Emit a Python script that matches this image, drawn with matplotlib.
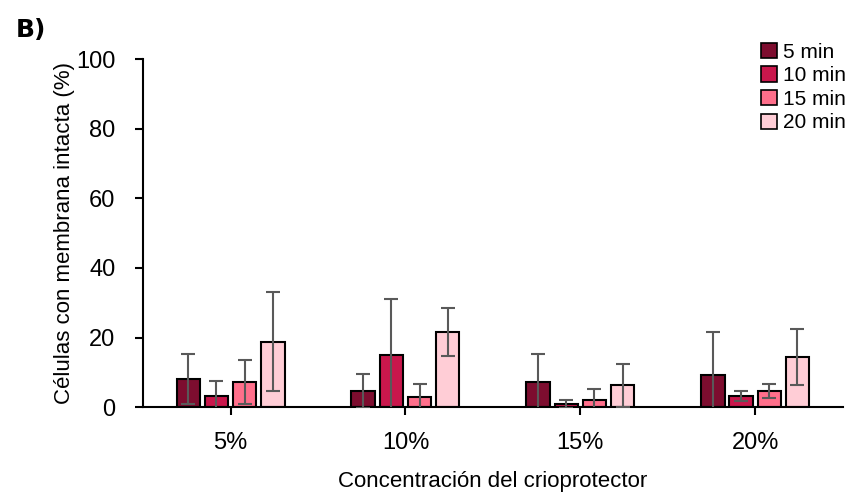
import numpy as np
import matplotlib.pyplot as plt
from matplotlib.patches import Patch

# datos: concentración del crioprotector vs tiempo de exposición
categorias = ['5%', '10%', '15%', '20%']
series = ['5 min', '10 min', '15 min', '20 min']
val_5min = [8.0, 4.7, 7.3, 9.2]
val_10min = [3.3, 14.9, 0.9, 3.3]
val_15min = [7.2, 3.0, 2.1, 4.7]
val_20min = [18.8, 21.6, 6.3, 14.5]
err_5min = [7.2, 4.8, 7.9, 12.3]
err_10min = [4.3, 16.3, 1.1, 1.4]
err_15min = [6.3, 3.6, 3.0, 2.0]
err_20min = [14.2, 7.0, 6.2, 8.1]

valores = [val_5min, val_10min, val_15min, val_20min]
errores = [err_5min, err_10min, err_15min, err_20min]
colores = ['#7d0d2f', '#c9174c', '#ff6f8b', '#ffcdd6']

plt.rcParams['font.family'] = ['Liberation Sans', 'DejaVu Sans']

fig = plt.figure(figsize=(8.52, 4.96), dpi=100)
ax = fig.add_axes([0.168, 0.179, 0.821, 0.702])

x = np.arange(len(categorias))
paso = 0.161
ancho = 0.134
for i in range(len(series)):
    pos = x + (i - 1.5) * paso
    ax.bar(pos, valores[i], width=ancho, color=colores[i], edgecolor='black',
           linewidth=1.5, zorder=2)
    ax.errorbar(pos, valores[i], yerr=errores[i], fmt='none', ecolor='#595959',
                elinewidth=1.5, capsize=5, capthick=1.5, zorder=3)

ax.set_xlim(-0.5, 3.5)
ax.set_ylim(0, 100)
ax.set_yticks([0, 20, 40, 60, 80, 100])
ax.set_xticks(x)
ax.set_xticklabels(categorias)
ax.tick_params(axis='both', labelsize=17, width=1.5, length=6, direction='out')
ax.tick_params(axis='x', pad=12)
ax.tick_params(axis='y', pad=14)
for lado in ['top', 'right']:
    ax.spines[lado].set_visible(False)
for lado in ['left', 'bottom']:
    ax.spines[lado].set_linewidth(1.5)

ax.set_xlabel('Concentración del crioprotector', fontsize=16, labelpad=12)
ax.set_ylabel('Células con membrana intacta (%)', fontsize=16, labelpad=1)

handles = [Patch(facecolor=c, edgecolor='black', linewidth=1.2) for c in colores]
fig.legend(handles, series, loc='upper right', bbox_to_anchor=(1.005, 0.935),
           frameon=False, fontsize=15, handlelength=0.75, handleheight=0.75,
           handletextpad=0.3, labelspacing=0.22, borderaxespad=0.1)

fig.text(0.018, 0.925, 'B)', fontsize=18, fontweight='bold', family='DejaVu Sans')

fig.savefig('out.png', dpi=100)
